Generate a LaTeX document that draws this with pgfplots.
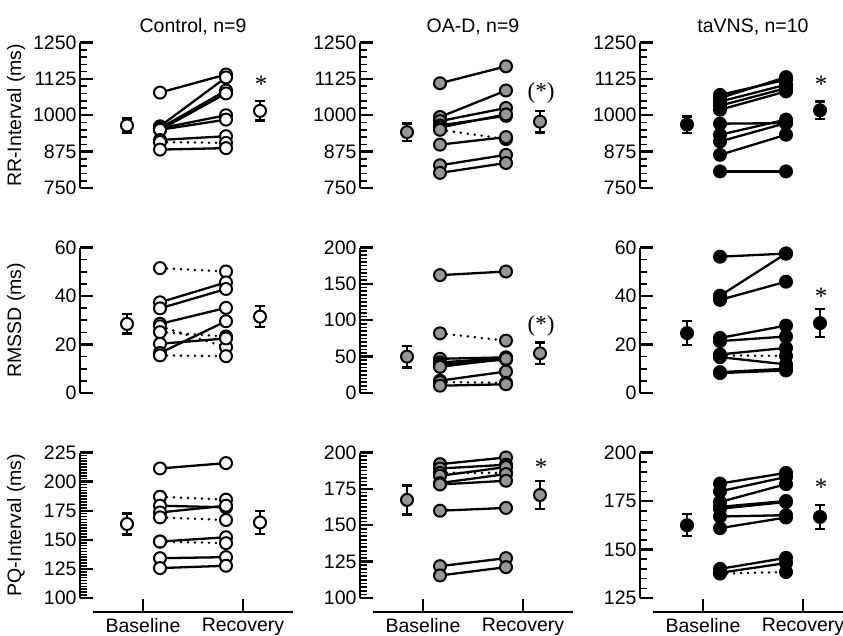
\documentclass[border=0pt]{standalone}
\usepackage{fontspec}
\setmainfont{Liberation Sans}
\newfontfamily\starfont{Liberation Serif}
\usepackage{pgfplots}
\pgfplotsset{compat=1.18}

\definecolor{oagray}{RGB}{150,150,150}
\newcommand{\fs}{\fontsize{19.5}{22}\selectfont}
\newcommand{\stfs}{\starfont\fontsize{25}{25}\selectfont}

\pgfplotsset{
  panel/.style={
    scale only axis, width=200pt, height=145.5pt,
    xmin=0.5, xmax=2.5,
    axis y line*=left,
    axis y line shift=13pt,
    axis line style={line width=2.8pt},
    tick align=inside, major tick length=13pt, minor tick length=7pt,
    major tick style={line width=2.3pt, black},
    minor tick style={line width=1.6pt, black},
    /pgf/number format/assume math mode=true,
    /pgf/number format/1000 sep={},
    tick label style={font=\fs},
    ylabel style={at={(axis description cs:-0.385,0.5)}, anchor=center, font=\fs},
    clip=false, anchor=south west,
  },
  nox/.style={axis x line=none},
  bottom/.style={axis x line*=bottom, axis x line shift=14pt,
    xtick={1,2}, xticklabels={Baseline,Recovery},
    x tick label style={yshift=-3pt}},
  subj/.style={black, line width=2.3pt, mark=*, mark size=6pt,
    mark options={solid, fill=#1, draw=black, line width=2pt}},
  dsubj/.style={subj=#1, dash pattern=on 0pt off 7pt, line cap=round, line width=2.8pt},
  mean/.style={black, only marks, mark=*, mark size=6pt,
    mark options={fill=#1, draw=black, line width=2pt},
    error bars/y dir=both, error bars/y explicit,
    error bars/error bar style={line width=2.3pt},
    error bars/error mark options={rotate=90, mark size=5pt, line width=2.3pt}},
}

\begin{document}
\begin{tikzpicture}
\path[use as bounding box] (0pt,0pt) rectangle (843pt,-636pt);
\coordinate (p11) at (93pt,-188pt);
\coordinate (p12) at (373pt,-188pt);
\coordinate (p13) at (653pt,-188pt);
\coordinate (p21) at (93pt,-393pt);
\coordinate (p22) at (373pt,-393pt);
\coordinate (p23) at (653pt,-393pt);
\coordinate (p31) at (93pt,-598pt);
\coordinate (p32) at (373pt,-598pt);
\coordinate (p33) at (653pt,-598pt);

% ---------- row 1: RR-Interval ----------
\begin{axis}[panel, nox, at={(p11)}, ymin=750, ymax=1250,
  ytick={750,875,1000,1125,1250}, minor y tick num=4,
  ylabel={RR-Interval (ms)}]
  \addplot[subj=white] coordinates {(1.17,1078)(1.83,1140)};
  \addplot[subj=white] coordinates {(1.17,962)(1.83,1130)};
  \addplot[subj=white] coordinates {(1.17,955)(1.83,1085)};
  \addplot[subj=white] coordinates {(1.17,950)(1.83,1075)};
  \addplot[subj=white] coordinates {(1.17,955)(1.83,1000)};
  \addplot[subj=white] coordinates {(1.17,950)(1.83,985)};
  \addplot[subj=white] coordinates {(1.17,915)(1.83,928)};
  \addplot[dsubj=white] coordinates {(1.17,908)(1.83,905)};
  \addplot[subj=white] coordinates {(1.17,882)(1.83,887)};
  \addplot[mean=white] coordinates {(0.84,965) +- (0,24) (2.17,1015) +- (0,33)};
  \node[font=\stfs] at (axis cs:2.18,1108) {*};
  \node[font=\fs] at (axis description cs:0.5,1.11) {Control, n=9};
\end{axis}

\begin{axis}[panel, nox, at={(p12)}, ymin=750, ymax=1250,
  ytick={750,875,1000,1125,1250}, minor y tick num=4]
  \addplot[subj=oagray] coordinates {(1.17,1110)(1.83,1168)};
  \addplot[subj=oagray] coordinates {(1.17,994)(1.83,1085)};
  \addplot[subj=oagray] coordinates {(1.17,980)(1.83,1025)};
  \addplot[subj=oagray] coordinates {(1.17,965)(1.83,998)};
  \addplot[subj=oagray] coordinates {(1.17,958)(1.83,1003)};
  \addplot[dsubj=oagray] coordinates {(1.17,950)(1.83,918)};
  \addplot[subj=oagray] coordinates {(1.17,899)(1.83,925)};
  \addplot[subj=oagray] coordinates {(1.17,828)(1.83,864)};
  \addplot[subj=oagray] coordinates {(1.17,802)(1.83,836)};
  \addplot[mean=oagray] coordinates {(0.84,942) +- (0,30) (2.17,978) +- (0,37)};
  \node[font=\starfont\fontsize{23}{23}\selectfont] at (axis cs:2.18,1076) {(*)};
  \node[font=\fs] at (axis description cs:0.5,1.11) {OA-D, n=9};
\end{axis}

\begin{axis}[panel, nox, at={(p13)}, ymin=750, ymax=1250,
  ytick={750,875,1000,1125,1250}, minor y tick num=4]
  \addplot[subj=black] coordinates {(1.17,1070)(1.83,1122)};
  \addplot[subj=black] coordinates {(1.17,1059)(1.83,1131)};
  \addplot[subj=black] coordinates {(1.17,1047)(1.83,1105)};
  \addplot[subj=black] coordinates {(1.17,1033)(1.83,1093)};
  \addplot[subj=black] coordinates {(1.17,1019)(1.83,1082)};
  \addplot[subj=black] coordinates {(1.17,971)(1.83,973)};
  \addplot[subj=black] coordinates {(1.17,933)(1.83,985)};
  \addplot[subj=black] coordinates {(1.17,910)(1.83,973)};
  \addplot[subj=black] coordinates {(1.17,864)(1.83,933)};
  \addplot[subj=black] coordinates {(1.17,807)(1.83,807)};
  \addplot[mean=black] coordinates {(0.84,968) +- (0,28) (2.17,1017) +- (0,30)};
  \node[font=\stfs] at (axis cs:2.18,1108) {*};
  \node[font=\fs] at (axis description cs:0.5,1.11) {taVNS, n=10};
\end{axis}

% ---------- row 2: RMSSD ----------
\begin{axis}[panel, nox, at={(p21)}, ymin=0, ymax=60,
  ytick={0,20,40,60}, minor y tick num=3, ylabel={RMSSD (ms)}]
  \addplot[dsubj=white] coordinates {(1.17,51.5)(1.83,50.1)};
  \addplot[subj=white] coordinates {(1.17,37.4)(1.83,45.6)};
  \addplot[subj=white] coordinates {(1.17,34.9)(1.83,42.9)};
  \addplot[subj=white] coordinates {(1.17,28.5)(1.83,35.1)};
  \addplot[dsubj=white] coordinates {(1.17,27.5)(1.83,18.9)};
  \addplot[dsubj=white] coordinates {(1.17,25.1)(1.83,23.3)};
  \addplot[subj=white] coordinates {(1.17,20.3)(1.83,22.5)};
  \addplot[subj=white] coordinates {(1.17,16.5)(1.83,29.6)};
  \addplot[dsubj=white] coordinates {(1.17,15.5)(1.83,15.2)};
  \addplot[mean=white] coordinates {(0.84,28.5) +- (0,4) (2.17,31.5) +- (0,4.3)};
\end{axis}

\begin{axis}[panel, nox, at={(p22)}, ymin=0, ymax=200,
  ytick={0,50,100,150,200}, minor y tick num=9]
  \addplot[subj=oagray] coordinates {(1.17,162)(1.83,167)};
  \addplot[dsubj=oagray] coordinates {(1.17,82)(1.83,72)};
  \addplot[subj=oagray] coordinates {(1.17,47)(1.83,49)};
  \addplot[subj=oagray] coordinates {(1.17,42)(1.83,48)};
  \addplot[subj=oagray] coordinates {(1.17,39)(1.83,46)};
  \addplot[subj=oagray] coordinates {(1.17,36)(1.83,47)};
  \addplot[subj=oagray] coordinates {(1.17,17)(1.83,29.5)};
  \addplot[dsubj=oagray] coordinates {(1.17,15)(1.83,14)};
  \addplot[subj=oagray] coordinates {(1.17,10)(1.83,12)};
  \addplot[mean=oagray] coordinates {(0.84,50) +- (0,15) (2.17,54.5) +- (0,15)};
  \node[font=\starfont\fontsize{23}{23}\selectfont] at (axis cs:2.18,92) {(*)};
\end{axis}

\begin{axis}[panel, nox, at={(p23)}, ymin=0, ymax=60,
  ytick={0,20,40,60}, minor y tick num=3]
  \addplot[subj=black] coordinates {(1.17,56.2)(1.83,57.5)};
  \addplot[subj=black] coordinates {(1.17,40.1)(1.83,57.5)};
  \addplot[subj=black] coordinates {(1.17,38.4)(1.83,45.9)};
  \addplot[subj=black] coordinates {(1.17,22.7)(1.83,27.8)};
  \addplot[subj=black] coordinates {(1.17,21.4)(1.83,23.3)};
  \addplot[subj=black] coordinates {(1.17,15.9)(1.83,18.6)};
  \addplot[dsubj=black] coordinates {(1.17,15.5)(1.83,15.3)};
  \addplot[subj=black] coordinates {(1.17,14.8)(1.83,11.8)};
  \addplot[subj=black] coordinates {(1.17,8.6)(1.83,10)};
  \addplot[subj=black] coordinates {(1.17,8.2)(1.83,9.3)};
  \addplot[mean=black] coordinates {(0.84,24.7) +- (0,5) (2.17,28.8) +- (0,5.8)};
  \node[font=\stfs] at (axis cs:2.18,40) {*};
\end{axis}

% ---------- row 3: PQ-Interval ----------
\begin{axis}[panel, bottom, at={(p31)}, ymin=100, ymax=225,
  ytick={100,125,150,175,200,225}, minor y tick num=9, ylabel={PQ-Interval (ms)}]
  \addplot[subj=white] coordinates {(1.17,211.3)(1.83,215.9)};
  \addplot[dsubj=white] coordinates {(1.17,187)(1.83,184.5)};
  \addplot[subj=white] coordinates {(1.17,179.3)(1.83,177.9)};
  \addplot[subj=white] coordinates {(1.17,173.5)(1.83,179.3)};
  \addplot[dsubj=white] coordinates {(1.17,169.3)(1.83,167)};
  \addplot[subj=white] coordinates {(1.17,148.5)(1.83,152.2)};
  \addplot[dsubj=white] coordinates {(1.17,148.5)(1.83,147.1)};
  \addplot[subj=white] coordinates {(1.17,134.2)(1.83,135.1)};
  \addplot[subj=white] coordinates {(1.17,125.7)(1.83,127.7)};
  \addplot[mean=white] coordinates {(0.84,163.6) +- (0,9) (2.17,164.9) +- (0,10)};
\end{axis}

\begin{axis}[panel, bottom, at={(p32)}, ymin=100, ymax=200,
  ytick={100,125,150,175,200}, minor y tick num=9]
  \addplot[subj=oagray] coordinates {(1.17,192)(1.83,196.6)};
  \addplot[subj=oagray] coordinates {(1.17,189)(1.83,191.6)};
  \addplot[dsubj=oagray] coordinates {(1.17,186)(1.83,186)};
  \addplot[subj=oagray] coordinates {(1.17,184)(1.83,190)};
  \addplot[subj=oagray] coordinates {(1.17,179)(1.83,185.2)};
  \addplot[subj=oagray] coordinates {(1.17,178)(1.83,180.6)};
  \addplot[subj=oagray] coordinates {(1.17,160)(1.83,161.9)};
  \addplot[subj=oagray] coordinates {(1.17,121.9)(1.83,127.4)};
  \addplot[subj=oagray] coordinates {(1.17,115.5)(1.83,121.2)};
  \addplot[mean=oagray] coordinates {(0.84,167.4) +- (0,10) (2.17,170.8) +- (0,9.5)};
  \node[font=\stfs] at (axis cs:2.18,190) {*};
\end{axis}

\begin{axis}[panel, bottom, at={(p33)}, ymin=125, ymax=200,
  ytick={125,150,175,200}, minor y tick num=4]
  \addplot[subj=black] coordinates {(1.17,184)(1.83,189.5)};
  \addplot[subj=black] coordinates {(1.17,180)(1.83,187.4)};
  \addplot[subj=black] coordinates {(1.17,174.5)(1.83,183.7)};
  \addplot[subj=black] coordinates {(1.17,172)(1.83,175)};
  \addplot[subj=black] coordinates {(1.17,171)(1.83,174.5)};
  \addplot[subj=black] coordinates {(1.17,167)(1.83,167.7)};
  \addplot[subj=black] coordinates {(1.17,161)(1.83,166.5)};
  \addplot[subj=black] coordinates {(1.17,140)(1.83,145.7)};
  \addplot[subj=black] coordinates {(1.17,138)(1.83,143)};
  \addplot[dsubj=black] coordinates {(1.17,137.6)(1.83,138.4)};
  \addplot[mean=black] coordinates {(0.84,162.5) +- (0,5.7) (2.17,166.8) +- (0,6.2)};
  \node[font=\stfs] at (axis cs:2.18,182) {*};
\end{axis}
\end{tikzpicture}
\end{document}
